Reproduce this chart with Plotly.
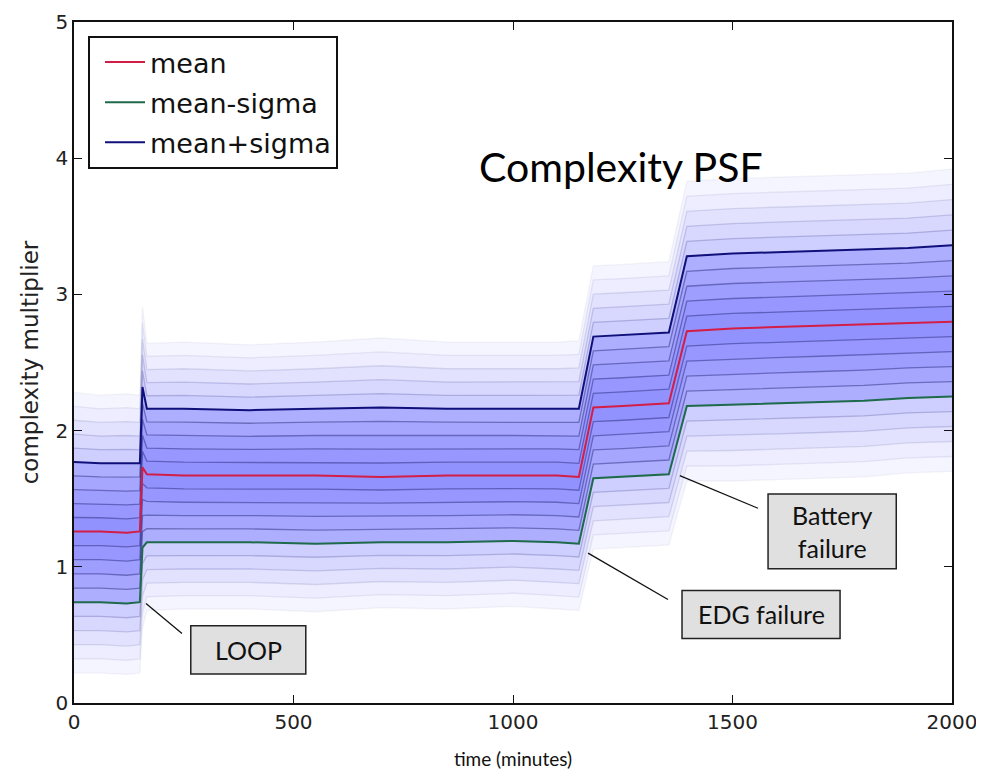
import plotly.graph_objects as go

# ---- data ----
time = [0, 60, 120, 150, 156, 166, 250, 400, 550, 700, 850, 1000, 1100, 1150,
        1183, 1250, 1300, 1355, 1396, 1500, 1600, 1700, 1800, 1900, 2000]
mean = [1.26, 1.26, 1.25, 1.26, 1.73, 1.68, 1.67, 1.67, 1.67, 1.66, 1.67, 1.67, 1.67, 1.66,
        2.17, 2.18, 2.19, 2.20, 2.73, 2.75, 2.76, 2.77, 2.78, 2.79, 2.80]
mean_plus_sigma = [1.77, 1.76, 1.76, 1.76, 2.32, 2.16, 2.16, 2.15, 2.16, 2.17, 2.16, 2.16, 2.16, 2.16,
                   2.69, 2.70, 2.71, 2.72, 3.28, 3.30, 3.31, 3.32, 3.33, 3.34, 3.36]
mean_minus_sigma = [0.74, 0.74, 0.73, 0.74, 1.14, 1.18, 1.18, 1.18, 1.17, 1.18, 1.18, 1.19, 1.18, 1.17,
                    1.65, 1.66, 1.67, 1.68, 2.18, 2.19, 2.20, 2.21, 2.22, 2.24, 2.25]
# fan levels in units of sigma
band_levels = [0.2, 0.4, 0.6, 0.8, 1.0, 1.2, 1.4, 1.6, 1.8, 2.0]

x_ticks = [0, 500, 1000, 1500, 2000]
y_ticks = [0, 1, 2, 3, 4, 5]

callout_texts = ["LOOP", "EDG failure", "Battery<br>failure"]

# ---- styling ----
# cumulative opacity wanted in each ring (inner -> outer)
ring_opacity = [0.42, 0.40, 0.37, 0.34, 0.31, 0.19, 0.15, 0.11, 0.07, 0.04]
band_alpha = []
for i, c in enumerate(ring_opacity):
    c_next = ring_opacity[i + 1] if i + 1 < len(ring_opacity) else 0.0
    band_alpha.append(1 - (1 - c) / (1 - c_next))
line_alpha = [0.45, 0.45, 0.45, 0.45, 0.45, 0.22, 0.17, 0.12, 0.08, 0.05]

fig = go.Figure()

up_dist = [u - m for u, m in zip(mean_plus_sigma, mean)]
dn_dist = [m - l for m, l in zip(mean, mean_minus_sigma)]

# shaded fan bands
for L, a in zip(band_levels, band_alpha):
    hi = [m + L * d for m, d in zip(mean, up_dist)]
    lo = [m - L * d for m, d in zip(mean, dn_dist)]
    fig.add_trace(go.Scatter(
        x=time + time[::-1], y=hi + lo[::-1], fill="toself",
        fillcolor=f"rgba(0,0,255,{a:.3f})", line=dict(width=0),
        mode="lines", showlegend=False, hoverinfo="skip"))

# thin quantile lines
for L, la in zip(band_levels, line_alpha):
    if abs(L - 1.0) < 1e-9:
        continue
    hi = [m + L * d for m, d in zip(mean, up_dist)]
    lo = [m - L * d for m, d in zip(mean, dn_dist)]
    for yy in (hi, lo):
        fig.add_trace(go.Scatter(
            x=time, y=yy, mode="lines",
            line=dict(color=f"rgba(30,30,110,{la})", width=1.3),
            showlegend=False, hoverinfo="skip"))

# main lines
fig.add_trace(go.Scatter(x=time, y=mean, mode="lines", name="mean",
                         line=dict(color="#d21e46", width=2), legendgroup="a"))
fig.add_trace(go.Scatter(x=time, y=mean_minus_sigma, mode="lines", name="mean-sigma",
                         line=dict(color="#1e6a4a", width=2), legendgroup="b"))
fig.add_trace(go.Scatter(x=time, y=mean_plus_sigma, mode="lines", name="mean+sigma",
                         line=dict(color="#10107a", width=2), legendgroup="c"))

# callouts: box centre (t, v), box size (t, v), leader line start / end
callouts = [
    dict(cx=397, cy=0.39, w=262, h=0.353, p0=(164, 0.73), p1=(246, 0.51)),
    dict(cx=1565, cy=0.65, w=360, h=0.353, p0=(1171, 1.10), p1=(1353, 0.76)),
    dict(cx=1727, cy=1.26, w=292, h=0.55, p0=(1380, 1.67), p1=(1558, 1.43)),
]
for txt, c in zip(callout_texts, callouts):
    fig.add_shape(type="line", xref="x", yref="y",
                  x0=c["p0"][0], y0=c["p0"][1], x1=c["p1"][0], y1=c["p1"][1],
                  line=dict(color="#111", width=1.3))
    fig.add_shape(type="rect", xref="x", yref="y",
                  x0=c["cx"] - c["w"] / 2, x1=c["cx"] + c["w"] / 2,
                  y0=c["cy"] - c["h"] / 2, y1=c["cy"] + c["h"] / 2,
                  fillcolor="#e0e0e0", line=dict(color="#222", width=1.5))
    fig.add_annotation(x=c["cx"], y=c["cy"], xref="x", yref="y", text=txt,
                       showarrow=False, font=dict(family="Lato", size=25, color="#111"))

fig.add_annotation(x=(621 - 74) / 878, y=(703 - 140) / 681, xref="paper", yref="paper",
                   text="Complexity PSF", showarrow=False,
                   font=dict(family="Lato", size=41, color="#000"))

axis_common = dict(showline=True, linecolor="#111", linewidth=1.6, mirror="ticks",
                   ticks="inside", ticklen=8, tickwidth=1, tickcolor="#111",
                   showgrid=False, zeroline=False, automargin=False,
                   ticklabeloverflow="allow",
                   tickfont=dict(family="DejaVu Sans", size=20, color="#222"))

# page body has an 8px margin, so the figure is sized to fit inside it
fig.update_layout(
    width=968, height=763,
    margin=dict(l=66, r=24, t=14, b=68),
    paper_bgcolor="white", plot_bgcolor="white",
    xaxis=dict(range=[0, 2000], tickvals=x_ticks,
               title=dict(text="time (minutes)", standoff=20,
                          font=dict(family="Lato", size=19, color="#111")),
               **axis_common),
    yaxis=dict(range=[0, 5], tickvals=y_ticks,
               title=dict(text="complexity multiplier", standoff=10,
                          font=dict(family="DejaVu Sans", size=23, color="#222")),
               **axis_common),
    legend=dict(x=(88 - 74) / 878, y=(703 - 36) / 681, xanchor="left", yanchor="top",
                bgcolor="white", bordercolor="#111", borderwidth=2,
                font=dict(family="DejaVu Sans", size=27, color="#111"),
                tracegroupgap=2, itemwidth=40, indentation=10, traceorder="grouped"),
    showlegend=True,
)

fig.write_html("out.html")
